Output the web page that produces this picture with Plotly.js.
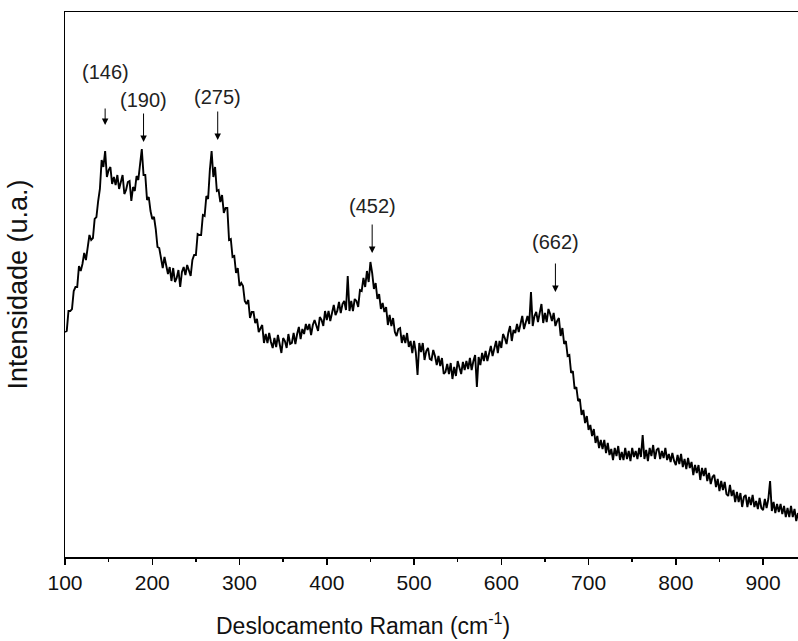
<!DOCTYPE html>
<html>
<head>
<meta charset="utf-8">
<script src="https://cdn.plot.ly/plotly-3.0.1.min.js"></script>
<style>
  html, body { margin: 0; padding: 0; background: #fff; }
  #chart { width: 798px; height: 641px; }
</style>
</head>
<body>
<div id="chart"></div>
<script>
// Raman spectrum, sampled every 2 cm-1 from 100 to 940 cm-1 (arbitrary intensity units)
const shiftStart = 100;
const shiftStep = 2;
const intensity = [
  225,226,246,246,248,266,270,270,291,286,
  293,304,297,311,322,317,319,338,340,356,
  368,397,390,406,380,387,390,373,380,372,
  382,368,374,382,363,367,375,376,356,370,
  366,381,377,393,408,382,382,357,360,346,
  338,340,328,310,309,299,289,300,293,283,
  290,276,289,275,279,287,270,285,290,282,
  292,285,281,297,302,302,323,322,322,342,
  341,361,358,387,406,380,390,366,367,355,
  362,344,349,349,317,318,300,301,284,289,
  271,274,271,256,253,257,239,245,245,234,
  238,225,229,232,214,223,214,224,215,209,
  219,210,222,213,204,219,216,209,223,213,
  214,224,213,223,230,218,228,223,233,227,
  233,222,232,237,230,226,240,237,231,246,
  237,246,236,245,252,242,246,255,244,253,
  256,247,281,246,256,246,258,256,250,267,
  266,279,270,286,275,295,284,268,274,258,
  263,248,254,245,250,232,242,231,239,225,
  221,228,229,214,222,214,224,210,216,204,
  216,205,182,214,205,214,197,206,209,198,
  197,207,201,192,201,191,199,183,185,193,
  183,194,178,190,181,196,189,183,195,187,
  196,188,199,187,196,202,170,200,192,204,
  196,206,196,205,211,201,208,216,204,216,
  209,223,219,213,224,231,216,227,224,233,
  225,235,241,228,236,241,233,265,231,241,
  245,235,244,253,234,244,235,248,243,236,
  244,231,236,239,221,229,213,216,201,202,
  184,186,168,170,156,158,142,147,134,141,
  127,132,121,128,114,121,109,117,108,117,
  104,114,102,108,97,109,101,111,97,105,
  97,109,98,106,96,109,100,106,98,109,
  100,122,98,107,96,109,101,112,98,107,
  109,98,106,99,109,97,103,95,104,96,
  92,102,93,103,90,98,88,99,89,95,
  82,92,84,92,77,89,81,89,76,84,
  73,80,82,70,78,66,76,67,75,63,
  61,72,61,67,55,65,55,64,50,60,
  62,50,60,52,62,50,56,48,59,49,
  47,58,49,58,76,46,55,44,53,45,
  53,43,51,40,49,40,51,40,48,36,
  44
];
const ramanShift = intensity.map((_, i) => shiftStart + shiftStep * i);

// Assigned Raman bands
const peakShift = [146, 190, 275, 452, 662];
const peakLabels = ['(146)', '(190)', '(275)', '(452)', '(662)'];

const xTitle = 'Deslocamento Raman (cm<sup>-1</sup>)';
const yTitle = 'Intensidade (u.a.)';

// Arrow tip height, arrow length and label height for each band
const arrowStyle = [
  { tip: 432, len: 18, labelY: 485 },
  { tip: 415, len: 30, labelY: 457 },
  { tip: 417, len: 30, labelY: 460 },
  { tip: 304, len: 30, labelY: 351 },
  { tip: 265, len: 30, labelY: 315 }
];

const fontFamily = 'Arial, "Liberation Sans", sans-serif';

const annotations = [];
peakShift.forEach((x, i) => {
  const s = arrowStyle[i];
  annotations.push({
    x: x, y: s.tip, xref: 'x', yref: 'y',
    text: '', showarrow: true,
    ax: 0, ay: -s.len,
    arrowhead: 2, arrowsize: 1.3, arrowwidth: 1, arrowcolor: '#000'
  });
  annotations.push({
    x: x, y: s.labelY, xref: 'x', yref: 'y',
    text: peakLabels[i], showarrow: false,
    font: { family: fontFamily, size: 20, color: '#222' }
  });
});

// x-axis title, set left of the plot centre
annotations.push({
  x: 0.4066, y: -0.123, xref: 'paper', yref: 'paper',
  xanchor: 'center', yanchor: 'middle',
  text: xTitle, showarrow: false,
  font: { family: fontFamily, size: 23, color: '#111' }
});

const trace = {
  x: ramanShift,
  y: intensity,
  type: 'scatter',
  mode: 'lines',
  line: { color: '#000', width: 1.9 },
  hoverinfo: 'x+y'
};

const layout = {
  width: 798,
  height: 641,
  margin: { l: 65, r: 0, t: 12, b: 84 },
  paper_bgcolor: '#fff',
  plot_bgcolor: '#fff',
  showlegend: false,
  font: { family: fontFamily, color: '#111' },
  xaxis: {
    range: [100, 940],
    tick0: 100,
    dtick: 100,
    ticks: 'outside',
    ticklen: 6,
    tickwidth: 1.5,
    tickcolor: '#000',
    minor: { dtick: 50, ticks: 'outside', ticklen: 3.5, tickwidth: 1.5, tickcolor: '#000' },
    showline: true,
    linecolor: '#000',
    linewidth: 1.5,
    mirror: true,
    showgrid: false,
    zeroline: false,
    tickfont: { family: fontFamily, size: 21, color: '#111' }
  },
  yaxis: {
    range: [0, 545],
    showticklabels: false,
    ticks: '',
    showline: true,
    linecolor: '#000',
    linewidth: 1.5,
    mirror: false,
    showgrid: false,
    zeroline: false,
    title: {
      text: yTitle,
      font: { family: fontFamily, size: 27, color: '#111' },
      standoff: 28
    }
  },
  annotations: annotations
};

Plotly.newPlot('chart', [trace], layout, { displayModeBar: false, staticPlot: true });
</script>
</body>
</html>
